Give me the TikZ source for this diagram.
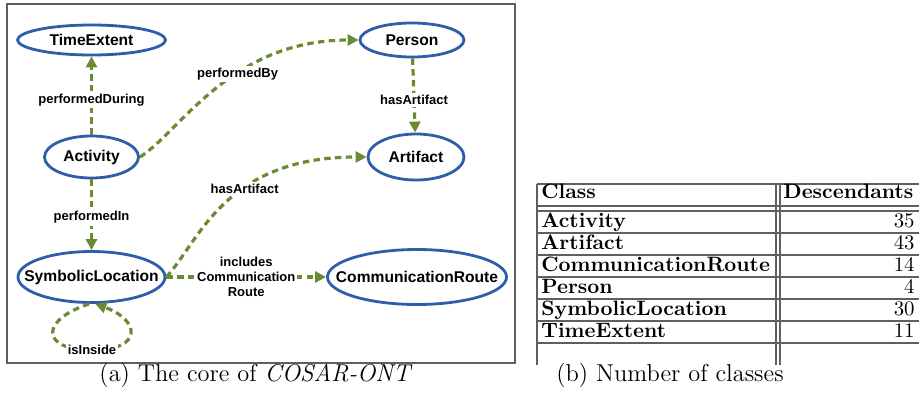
\documentclass[tikz,border=0pt]{standalone}
\usepackage{fontspec}
\newfontfamily\arialfont{Liberation Sans}
\usetikzlibrary{shapes.geometric,arrows.meta}
\definecolor{ontoblue}{RGB}{46,94,170}
\definecolor{ontogreen}{RGB}{107,138,52}
\definecolor{rulegray}{RGB}{95,95,95}
% keep the ellipse size set by minimum width, not by the text
\newcommand{\zerowd}[1]{\makebox[0pt]{#1}}

\begin{document}
\begin{tikzpicture}[x=0.5pt, y=0.5pt]
    \tikzstyle{concept} = [ellipse, draw=ontoblue, line width=1.4pt, inner sep=0pt, font=\arialfont\fontsize{7.8}{9}\selectfont\bfseries]
    \tikzstyle{relation} = [draw=ontogreen, line width=1.6pt, dash pattern=on 3.2pt off 2.2pt, -{Triangle[length=5.5pt, width=5.5pt]}]
    \tikzstyle{rellabel} = [fill=white, inner sep=1pt, align=center, font=\arialfont\fontsize{6.5}{7.5}\selectfont\bfseries]
    \tikzstyle{tabrule} = [draw=rulegray, line width=0.55pt]
    \tikzstyle{tabtext} = [inner sep=0pt, font=\fontsize{10.4}{12}\selectfont]
    \tikzstyle{caption} = [inner sep=0pt, anchor=base, font=\fontsize{12.2}{14}\selectfont]
    \useasboundingbox (0,0) rectangle (919,392);

    % left part: the ontology core
    \draw[rulegray, line width=0.8pt] (7,29) rectangle (515,388);
    \node[concept, minimum width=74pt, minimum height=15pt] (time) at (91.5,352) {\zerowd{TimeExtent}};
    \node[concept, minimum width=52pt, minimum height=17pt] (person) at (412,352) {\zerowd{Person}};
    \node[concept, minimum width=47pt, minimum height=21pt] (activity) at (91.5,235) {\zerowd{Activity}};
    \node[concept, minimum width=48pt, minimum height=23pt] (artifact) at (416,235) {\zerowd{Artifact}};
    \node[concept, minimum width=73.5pt, minimum height=25.5pt] (symloc) at (91.5,115) {\zerowd{SymbolicLocation}};
    \node[concept, minimum width=89.5pt, minimum height=27.5pt] (route) at (417,115) {\zerowd{CommunicationRoute}};

    \draw[relation] (activity) -- node[rellabel, pos=0.44] {performedDuring} (time);
    \draw[relation] (person) -- node[rellabel, pos=0.56] {hasArtifact} (artifact);
    \draw[relation] (activity) -- node[rellabel, pos=0.54] {performedIn} (symloc);
    \draw[relation] (symloc) -- node[rellabel] {includes\\Communication\\Route} (route);
    \draw[relation] (activity.east) .. controls (180,260) and (230,352) .. (person.west)
        node[rellabel, pos=0.6] {performedBy};
    \draw[relation] (symloc.east) .. controls (200,152) and (225,235) .. (artifact.west)
        node[rellabel, pos=0.6] {hasArtifact};
    \draw[relation] (symloc.265) .. controls (40,72) and (40,42) .. (92,42)
        node[rellabel, pos=1] {isInside}
        .. controls (144,42) and (140,72) .. (symloc.278);

    % right part: the table
    \foreach \y in {208,186,181,159,137,115,93,71,49}
        \draw[tabrule] (537,\y) -- (919,\y);
    \foreach \x in {537,776,780}
        \draw[tabrule] (\x,208) -- (\x,27);
    \node[tabtext, anchor=base west] (classhead) at (541,194) {\bfseries Class};
    \node[tabtext, anchor=base west] (deschead) at (783,194) {\bfseries Descendants};
    \foreach \cls/\num [count=\i] in {Activity/35, Artifact/43, CommunicationRoute/14,
                                       Person/4, SymbolicLocation/30, TimeExtent/11} {
        \node[tabtext, anchor=base west] (cls\i) at (541,187-22*\i) {\bfseries\cls};
        \node[tabtext, anchor=base east] (num\i) at (915,187-22*\i) {\num};
    }

    \node[caption] (capa) at (256,10.5) {(a) The core of \textit{COSAR-ONT}};
    \node[caption] (capb) at (670,10.5) {(b) Number of classes};
\end{tikzpicture}
\end{document}
